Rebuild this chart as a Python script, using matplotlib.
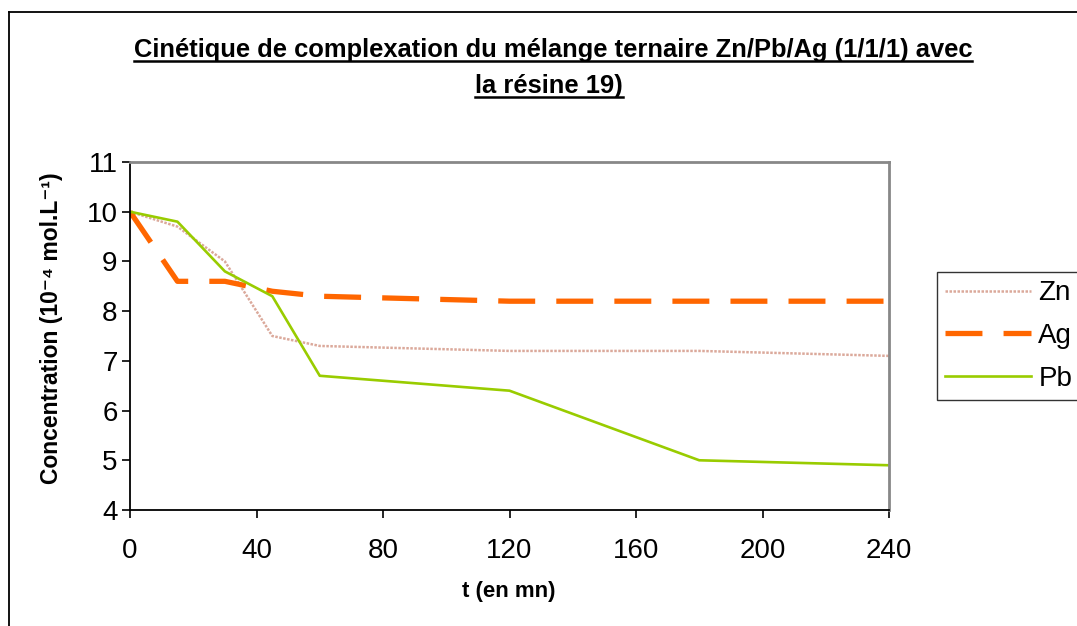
import matplotlib
matplotlib.use("Agg")
import matplotlib.pyplot as plt
from matplotlib.lines import Line2D

plt.rcParams['font.family'] = ['Liberation Sans', 'DejaVu Sans']

# sampling times (min) and concentrations (10^-4 mol/L)
t = [0, 15, 30, 45, 60, 120, 180, 240]
zn = [10.0, 9.7, 9.0, 7.5, 7.3, 7.2, 7.2, 7.1]
ag = [10.0, 8.6, 8.6, 8.4, 8.3, 8.2, 8.2, 8.2]
pb = [10.0, 9.8, 8.8, 8.3, 6.7, 6.4, 5.0, 4.9]

W, H = 1077, 626
fig = plt.figure(figsize=(W / 100, H / 100), dpi=100)
ax = fig.add_axes([130 / W, 1 - 510 / H, 759 / W, 348 / H])

ax.plot(t, zn, color='#dba99b', lw=1.8, ls=(0, (1, 0.6)), label='Zn')
ax.plot(t, ag, color='#ff6600', lw=3.8, ls=(0, (7, 4)), label='Ag',
        solid_capstyle='butt', dash_capstyle='butt')
ax.plot(t, pb, color='#99cc00', lw=1.9, label='Pb')

ax.set_xlim(0, 240)
ax.set_ylim(4, 11)
ax.set_xticks(range(0, 241, 40))
ax.set_yticks(range(4, 12))
ax.tick_params(direction='out', length=6, width=1.2, labelsize=20)
ax.tick_params(axis='x', pad=14)
ax.tick_params(axis='y', pad=3)

for s in ['top', 'right']:
    ax.spines[s].set_color('#888888')
    ax.spines[s].set_linewidth(2)
for s in ['left', 'bottom']:
    ax.spines[s].set_linewidth(1.3)

fig.text(509 / W, 1 - 592 / H, 't (en mn)', ha='center', va='center',
         fontsize=16, fontweight='bold')
fig.text(52 / W, 1 - 328 / H, 'Concentration (10\u207b\u2074 mol.L\u207b\u00b9)',
         ha='center', va='center', rotation=90, fontsize=16.5, fontweight='bold')

leg = ax.legend(loc='upper left', bbox_to_anchor=(937 / W, 1 - 272 / H),
                bbox_transform=fig.transFigure, fontsize=20, frameon=True,
                fancybox=False, edgecolor='black', handlelength=3.1,
                handletextpad=0.25, labelspacing=0.6, borderpad=0.3,
                borderaxespad=0)
leg.get_frame().set_linewidth(1.0)

# title on two lines, each underlined
titles = [('Cinétique de complexation du mélange ternaire Zn/Pb/Ag (1/1/1) avec', 553, 57),
          ('la résine 19)', 549, 93)]
fig.canvas.draw()
renderer = fig.canvas.get_renderer()
for txt, cx, base in titles:
    tt = fig.text(cx / W, 1 - base / H, txt, ha='center', va='baseline',
                  fontsize=18.4, fontweight='bold')
    bb = tt.get_window_extent(renderer)
    yl = 1 - (base + 4) / H
    fig.add_artist(Line2D([bb.x0 / W, bb.x1 / W], [yl, yl], color='black',
                          lw=1.8, transform=fig.transFigure))

# outer chart frame
fig.add_artist(Line2D([9 / W, 9 / W], [0, 1 - 12 / H], color='black', lw=1.3,
                      transform=fig.transFigure))
fig.add_artist(Line2D([9 / W, 1], [1 - 12 / H, 1 - 12 / H], color='black', lw=1.3,
                      transform=fig.transFigure))

fig.savefig('out.png', dpi=100)
